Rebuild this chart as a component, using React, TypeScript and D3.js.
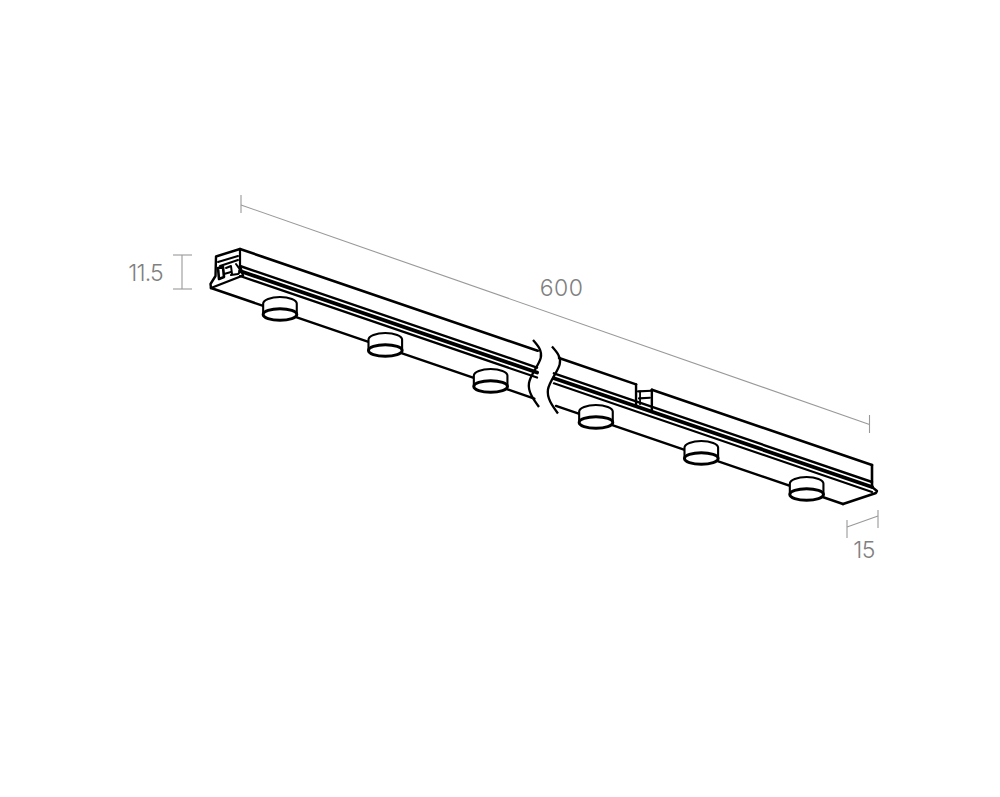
import { line, curveNatural, scaleLinear } from "d3";

// Values (mm)
const railLength = 600;
const dimensionLabels = ["600", "11.5", "15"];
const spotPositions = [50, 150, 250, 350, 450, 550];
const breakTop = [282.6, 302.9];
const breakGroove = [282, 298];
const breakPlate = [307, 327.5];
const connector = [376, 391];
const grooveOffsets = [17, 22, 27];
const grooveWidths = [2.4, 3.8, 2.2];

const alongX = scaleLinear().domain([0, railLength]).range([240, 872]);
const alongY = scaleLinear().domain([0, railLength]).range([249, 465]);

const pt = (t: number, dx = 0, dy = 0): [number, number] => [alongX(t) + dx, alongY(t) + dy];
const path = line();
const smooth = line().curve(curveNatural);

const INK = "#000";
const DIM = "#999";
const LABEL = "#808080";

const Poly = ({ p, w = 2.4 }: { p: [number, number][]; w?: number }) => (
  <path d={path(p)!} fill="none" stroke={INK} strokeWidth={w} strokeLinejoin="round" strokeLinecap="round" />
);
const Dim = ({ p }: { p: [number, number][] }) => (
  <path d={path(p)!} fill="none" stroke={DIM} strokeWidth={1.1} />
);

// one downlight on the underside of the rail
const Spot = ({ t }: { t: number }) => {
  const [cx, cy] = pt(t, -12.7, 47.5);
  const rx = 16.8;
  const body = `M${cx - rx},${cy} L${cx - rx},${cy - 11} A${rx},6.5 0 0 1 ${cx + rx},${cy - 11} L${cx + rx},${cy} Z`;
  return (
    <g>
      <path d={body} fill="#fff" stroke={INK} strokeWidth={2.1} strokeLinejoin="round" />
      <ellipse cx={cx} cy={cy} rx={rx} ry={5.8} fill="#fff" stroke={INK} strokeWidth={3} />
    </g>
  );
};

const breakCurve = (shift: number) =>
  smooth(
    ([
      [533, 340],
      [540.7, 358],
      [529, 383],
      [539, 407],
    ] as [number, number][]).map(([x, y]) => [x + alongX(shift) - alongX(0), y + alongY(shift) - alongY(0)] as [number, number])
  )!;

export default function App() {
  const plate = (t: number) => pt(t, -29, 39);
  return (
    <svg width={1000} height={797} style={{ position: "absolute", left: 0, top: 0, background: "#fff" }}>
      {/* dimension 600 */}
      <Dim p={[[241, 205], [869.5, 424.5]]} />
      <Dim p={[[241, 195], [241, 213]]} />
      <Dim p={[[869.5, 415], [869.5, 433]]} />
      {/* dimension 11.5 */}
      <Dim p={[[182, 255], [182, 289]]} />
      <Dim p={[[173, 255], [192, 255]]} />
      <Dim p={[[173, 289], [192, 289]]} />
      {/* dimension 15 */}
      <Dim p={[[847, 527], [878, 516]]} />
      <Dim p={[[847, 520], [847, 538]]} />
      <Dim p={[[878, 510], [878, 528]]} />

      {/* rail top edge, split by the break and the connector */}
      <Poly p={[pt(0), pt(breakTop[0])]} w={2.6} />
      <Poly p={[pt(breakTop[1]), pt(connector[0])]} w={2.6} />
      <Poly p={[pt(connector[1]), pt(railLength)]} w={2.6} />

      {/* grooves */}
      {grooveOffsets.map((o, i) => (
        <g key={o}>
          <Poly p={[pt(0, 0, o), pt(breakGroove[0], 0, o)]} w={grooveWidths[i]} />
          <Poly p={[pt(breakGroove[1], 0, o), pt(railLength, 0, o)]} w={grooveWidths[i]} />
        </g>
      ))}

      {/* plate back edge */}
      <Poly p={[plate(0), plate(breakPlate[0])]} />
      <Poly p={[plate(breakPlate[1]), plate(railLength)]} />

      {/* break marks */}
      <path d={breakCurve(0)} fill="none" stroke={INK} strokeWidth={2.3} />
      <path d={breakCurve(18)} fill="none" stroke={INK} strokeWidth={2.3} />

      {/* connector */}
      <Poly p={[pt(connector[0]), pt(connector[0], 0, 21)]} />
      <Poly p={[pt(connector[1]), pt(connector[1], 0, 21)]} />
      <Poly p={[pt(connector[0], 2, 7), pt(connector[1], 0, 1)]} w={2.2} />
      <Poly p={[pt(connector[0], 3, 14), pt(connector[1], -2, 8)]} w={2.2} />
      <Poly p={[pt(connector[0], 4, 7), pt(connector[0], 4, 20)]} w={1.8} />

      {/* right end */}
      <Poly p={[pt(railLength), pt(railLength, 0, 22)]} w={2.6} />
      <Poly p={[pt(railLength, 0, 22), pt(railLength, 5, 26), pt(railLength, 4, 28), plate(railLength)]} />

      {/* left end cap */}
      <Poly p={[pt(0), [216, 256.5], [215.5, 276], [210.5, 284], [211, 288]]} />
      <Poly p={[[211, 288], [243, 275.5], pt(0, 0, 17)]} />
      <Poly p={[pt(0), pt(0, 0, 18)]} w={2.2} />
      <Poly p={[[218, 262], [238, 256]]} w={2} />
      <Poly p={[[220, 266], [238, 260]]} w={2} />
      <Poly p={[[218, 268], [223, 267], [224, 277], [219, 279], [218, 268]]} w={2.6} />
      <Poly p={[[226, 268], [231, 266], [232, 274]]} w={2} />
      <Poly p={[[231, 275], [238, 274], [241, 271], [236, 264]]} w={2} />
      <Poly p={[[224, 274], [231, 272]]} w={2} />

      {spotPositions.map((t) => (
        <Spot key={t} t={t} />
      ))}

      <g fontFamily="Inter, sans-serif" fontWeight={300} fontSize={23} fill={LABEL} opacity={0.999}>
        <text x={561.5} y={296} textAnchor="middle" letterSpacing={0.5}>{dimensionLabels[0]}</text>
        <text x={145.5} y={281} textAnchor="middle" letterSpacing={-0.8}>{dimensionLabels[1]}</text>
        <text x={864} y={558} textAnchor="middle" letterSpacing={-0.5}>{dimensionLabels[2]}</text>
      </g>
    </svg>
  );
}
